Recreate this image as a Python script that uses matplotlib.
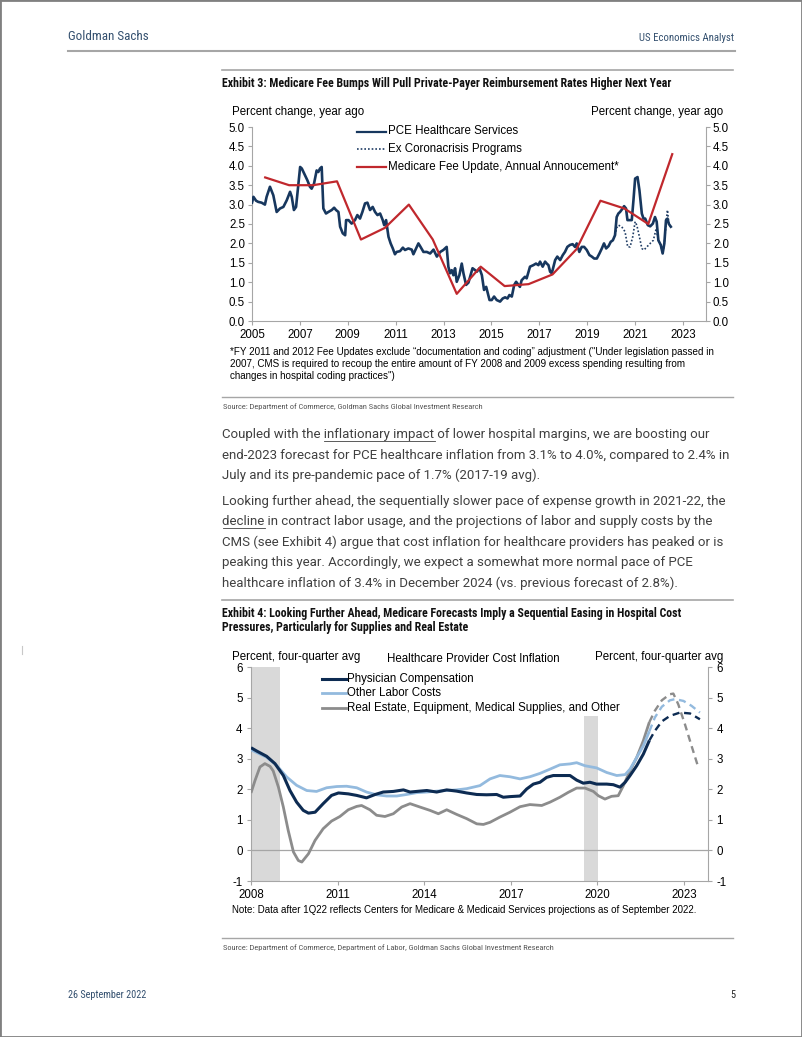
import numpy as np
import matplotlib
matplotlib.use('Agg')
import matplotlib.pyplot as plt
from matplotlib import font_manager
from matplotlib.font_manager import FontProperties
from matplotlib.lines import Line2D
from matplotlib.patches import Rectangle
from matplotlib.ticker import FormatStrFormatter

plt.rcParams['axes.unicode_minus'] = False

# ---------------- Exhibit 3 data ----------------
pce_years = [2005.0, 2005.06, 2005.17, 2005.26, 2005.40, 2005.54, 2005.61, 2005.75, 2005.89, 2006.03,
             2006.17, 2006.31, 2006.45, 2006.59, 2006.66, 2006.75, 2006.84, 2006.94, 2007.01, 2007.08,
             2007.21, 2007.31, 2007.42, 2007.49, 2007.59, 2007.70, 2007.77, 2007.84, 2007.91, 2007.98,
             2008.09, 2008.19, 2008.33, 2008.43, 2008.51, 2008.61, 2008.68, 2008.79, 2008.89, 2008.93,
             2009.03, 2009.16, 2009.30, 2009.40, 2009.51, 2009.61, 2009.72, 2009.82, 2009.93, 2010.04,
             2010.14, 2010.24, 2010.35, 2010.46, 2010.52, 2010.60, 2010.70, 2010.79, 2010.88, 2010.97,
             2011.04, 2011.18, 2011.30, 2011.39, 2011.53, 2011.67, 2011.74, 2011.88, 2011.95, 2012.02,
             2012.16, 2012.30, 2012.44, 2012.58, 2012.72, 2012.86, 2012.99, 2013.13, 2013.20, 2013.27,
             2013.34, 2013.41, 2013.48, 2013.55, 2013.66, 2013.76, 2013.83, 2013.94, 2014.04, 2014.11,
             2014.21, 2014.32, 2014.39, 2014.50, 2014.60, 2014.69, 2014.78, 2014.85, 2014.92, 2015.01,
             2015.11, 2015.22, 2015.36, 2015.47, 2015.57, 2015.67, 2015.75, 2015.85, 2015.95, 2016.03,
             2016.13, 2016.19, 2016.26, 2016.40, 2016.47, 2016.61, 2016.75, 2016.86, 2016.96, 2017.03,
             2017.14, 2017.24, 2017.31, 2017.38, 2017.45, 2017.52, 2017.59, 2017.66, 2017.75, 2017.87,
             2017.98, 2018.07, 2018.17, 2018.28, 2018.39, 2018.49, 2018.56, 2018.67, 2018.77, 2018.87,
             2018.98, 2019.09, 2019.19, 2019.29, 2019.40, 2019.51, 2019.61, 2019.70, 2019.79, 2019.89,
             2019.98, 2020.07, 2020.16, 2020.23, 2020.30, 2020.37, 2020.48, 2020.54, 2020.62, 2020.68,
             2020.86, 2020.93, 2021.00, 2021.10, 2021.18, 2021.28, 2021.35, 2021.42, 2021.53, 2021.63,
             2021.74, 2021.83, 2021.90, 2021.97, 2022.07, 2022.15, 2022.22, 2022.29, 2022.35, 2022.41,
             2022.49]
pce_vals = [3.05, 3.20, 3.10, 3.07, 3.05, 3.00, 3.20, 3.46, 3.24, 2.81,
            2.90, 2.94, 3.11, 3.33, 3.20, 2.86, 2.94, 3.54, 3.97, 3.93,
            3.76, 3.63, 3.46, 3.41, 3.54, 3.88, 3.84, 3.93, 3.97, 2.90,
            2.77, 2.81, 2.86, 2.92, 2.86, 2.81, 2.43, 2.26, 2.21, 2.60,
            2.60, 2.51, 2.60, 2.73, 2.64, 2.81, 3.03, 3.05, 2.86, 2.94,
            2.81, 2.73, 2.77, 2.60, 2.47, 2.60, 2.17, 2.00, 1.87, 1.72,
            1.78, 1.80, 1.89, 1.83, 1.87, 1.84, 1.72, 1.91, 2.00, 1.93,
            1.78, 1.78, 1.74, 1.84, 1.66, 1.78, 1.83, 1.91, 1.40, 1.23,
            1.31, 1.18, 1.36, 1.01, 1.18, 1.48, 1.23, 0.93, 0.99, 1.14,
            1.36, 1.31, 1.27, 1.36, 1.18, 0.80, 0.88, 0.71, 0.54, 0.54,
            0.63, 0.54, 0.50, 0.58, 0.61, 0.58, 0.67, 0.63, 0.93, 1.01,
            0.93, 0.88, 1.05, 1.14, 1.10, 1.40, 1.44, 1.48, 1.44, 1.53,
            1.40, 1.53, 1.48, 1.44, 1.27, 1.23, 1.40, 1.57, 1.66, 1.57,
            1.70, 1.78, 1.91, 1.96, 1.98, 1.91, 2.00, 1.78, 1.91, 1.91,
            1.83, 1.70, 1.66, 1.61, 1.61, 1.74, 1.87, 2.00, 1.87, 1.93,
            2.04, 2.08, 2.21, 2.68, 2.77, 2.81, 2.90, 2.96, 2.90, 2.60,
            2.60, 3.11, 3.67, 3.71, 3.37, 2.77, 2.64, 2.64, 2.47, 2.44,
            2.51, 2.68, 2.56, 2.08, 1.96, 1.74, 2.00, 2.60, 2.64, 2.50,
            2.43]

exc_years = [2020.16, 2020.23, 2020.30, 2020.44, 2020.58, 2020.69, 2020.79, 2020.90, 2021.00, 2021.07,
             2021.18, 2021.28, 2021.37, 2021.49, 2021.63, 2021.76, 2021.88, 2021.97, 2022.07, 2022.15,
             2022.22, 2022.29, 2022.35, 2022.41, 2022.49]
exc_vals = [2.21, 2.40, 2.47, 2.43, 2.30, 1.91, 1.91, 2.17, 2.56, 2.47,
            2.17, 1.87, 1.83, 1.91, 2.00, 2.08, 2.38, 2.08, 1.96, 1.74,
            2.00, 2.50, 2.86, 2.50, 2.43]

fee_years = np.arange(2005, 2023)
fee_vals = [3.7, 3.5, 3.5, 3.6, 2.1, 2.4, 3.0, 2.1, 0.7, 1.4, 0.9, 0.95, 1.2, 1.85, 3.1, 2.9, 2.5, 4.3]
fee_offset = 0.55  # announcement timing within the year

# ---------------- Exhibit 4 data ----------------
proj_from = 2021.8  # CMS projections begin
phys_years = [2008.0, 2008.2, 2008.54, 2008.83, 2009.12, 2009.35, 2009.58, 2009.81, 2009.99, 2010.22,
              2010.5, 2010.79, 2011.03, 2011.37, 2011.66, 2012.0, 2012.3, 2012.58, 2012.93, 2013.28,
              2013.51, 2013.85, 2014.09, 2014.43, 2014.78, 2015.12, 2015.47, 2015.82, 2016.16, 2016.51,
              2016.74, 2016.97, 2017.32, 2017.55, 2017.78, 2018.01, 2018.24, 2018.47, 2018.82, 2019.05,
              2019.28, 2019.51, 2019.74, 2019.97, 2020.32, 2020.55, 2020.78, 2020.96, 2021.13, 2021.36,
              2021.59, 2021.8, 2021.99, 2022.23, 2022.51, 2022.86, 2023.21, 2023.55]
phys_vals = [3.36, 3.25, 3.08, 2.84, 2.45, 1.96, 1.58, 1.31, 1.22, 1.25,
             1.53, 1.80, 1.88, 1.85, 1.80, 1.72, 1.83, 1.91, 1.93, 1.98,
             1.91, 1.94, 1.96, 1.91, 1.98, 1.94, 1.88, 1.83, 1.82, 1.83,
             1.74, 1.76, 1.78, 2.01, 2.17, 2.23, 2.39, 2.45, 2.45, 2.45,
             2.30, 2.20, 2.23, 2.17, 2.17, 2.15, 2.07, 2.23, 2.45, 2.77,
             3.15, 3.60, 3.91, 4.22, 4.40, 4.51, 4.48, 4.29]

labor_years = [2008.0, 2008.54, 2008.89, 2009.24, 2009.58, 2009.93, 2010.27, 2010.62, 2010.97, 2011.31,
               2011.66, 2012.0, 2012.35, 2012.7, 2013.05, 2013.39, 2013.74, 2014.09, 2014.43, 2014.78,
               2015.12, 2015.47, 2015.93, 2016.28, 2016.62, 2016.97, 2017.32, 2017.66, 2018.01, 2018.36,
               2018.70, 2019.05, 2019.28, 2019.57, 2019.97, 2020.32, 2020.67, 2020.96, 2021.13, 2021.36,
               2021.59, 2021.8, 2021.99, 2022.23, 2022.51, 2022.69, 2022.98, 2023.26, 2023.55]
labor_vals = [3.29, 3.05, 2.78, 2.40, 2.13, 1.96, 1.93, 2.05, 2.09, 2.10,
              2.05, 1.91, 1.82, 1.78, 1.78, 1.83, 1.89, 1.91, 1.94, 1.96,
              1.98, 2.02, 2.12, 2.34, 2.45, 2.41, 2.34, 2.41, 2.52, 2.66,
              2.80, 2.83, 2.87, 2.77, 2.70, 2.55, 2.45, 2.48, 2.66, 3.04,
              3.42, 3.90, 4.35, 4.70, 4.91, 4.95, 4.89, 4.73, 4.51]

other_years = [2008.0, 2008.14, 2008.31, 2008.48, 2008.66, 2008.77, 2008.95, 2009.12, 2009.29, 2009.47,
               2009.64, 2009.76, 2009.99, 2010.22, 2010.5, 2010.79, 2011.08, 2011.37, 2011.66, 2011.83,
               2012.12, 2012.35, 2012.64, 2012.93, 2013.22, 2013.51, 2013.85, 2014.2, 2014.49, 2014.78,
               2015.12, 2015.47, 2015.82, 2016.05, 2016.28, 2016.62, 2016.97, 2017.32, 2017.66, 2018.07,
               2018.36, 2018.70, 2018.99, 2019.28, 2019.57, 2019.86, 2020.03, 2020.26, 2020.49, 2020.72,
               2020.90, 2021.13, 2021.36, 2021.59, 2021.8, 2021.99, 2022.23, 2022.51, 2022.63, 2022.80,
               2023.03, 2023.26, 2023.50]
other_vals = [1.88, 2.29, 2.73, 2.84, 2.75, 2.60, 2.07, 1.42, 0.65, -0.05,
              -0.33, -0.38, -0.11, 0.33, 0.71, 0.96, 1.11, 1.33, 1.44, 1.47,
              1.33, 1.15, 1.11, 1.20, 1.42, 1.53, 1.42, 1.31, 1.20, 1.33,
              1.18, 1.04, 0.87, 0.85, 0.92, 1.09, 1.25, 1.43, 1.50, 1.47,
              1.58, 1.74, 1.90, 2.04, 2.04, 1.93, 1.79, 1.68, 1.77, 1.79,
              2.12, 2.61, 3.04, 3.59, 4.20, 4.57, 4.91, 5.11, 5.13, 4.78,
              4.13, 3.42, 2.70]

rec_starts = [2008.0, 2019.54]
rec_ends = [2009.02, 2020.03]
rec_tops = [6.0, 4.4]

# ---------------- fonts ----------------
W, H = 802, 1037
fig = plt.figure(figsize=(W / 100, H / 100), dpi=100)
fig.patch.set_facecolor('white')
renderer = fig.canvas.get_renderer()

ttf = font_manager.fontManager.ttflist
names = {f.name for f in ttf}


def weight_num(f):
    w = f.weight
    if isinstance(w, (int, float)):
        return w
    return font_manager.weight_dict.get(w, 400)


def find_condensed(bold):
    prefs = ['Roboto Condensed', 'Liberation Sans Narrow', 'Noto Sans', 'Open Sans', 'DejaVu Sans', 'Lato']
    best, bestscore = None, 1e18
    for f in ttf:
        cond = ('ondensed' in f.name) or ('Narrow' in f.name) or \
               (f.stretch in ('condensed', 'semi-condensed', 'extra-condensed'))
        if not cond or 'Mono' in f.name or 'Serif' in f.name or f.style != 'normal':
            continue
        pref = next((i for i, p in enumerate(prefs) if f.name.startswith(p)), len(prefs))
        target = 700 if bold else 400
        score = pref * 10000 + abs(weight_num(f) - target) + (0 if f.stretch == 'condensed' else 50)
        if score < bestscore:
            best, bestscore = f, score
    return best


fc_reg = find_condensed(False)
fc_bold = find_condensed(True)
if fc_reg is not None:
    NARROW = dict(fontproperties=FontProperties(fname=fc_reg.fname))
else:
    NARROW = dict(family='Roboto' if 'Roboto' in names else 'DejaVu Sans')
if fc_bold is not None and weight_num(fc_bold) >= 600:
    NARROWB = dict(fontproperties=FontProperties(fname=fc_bold.fname))
else:
    NARROWB = dict(family='Roboto' if 'Roboto' in names else 'DejaVu Sans', weight='bold')
ARIAL = dict(family='Liberation Sans')
BODY = dict(family='Roboto') if 'Roboto' in names else dict(family='DejaVu Sans')


def X(px):
    return px / W


def Y(py):
    return 1 - py / H


def width_px(s, size, **kw):
    t = fig.text(0, 0, s, fontsize=size, **kw)
    w = t.get_window_extent(renderer).width
    t.remove()
    return w


def fit(s, target, **kw):
    return 10.0 * target / width_px(s, 10.0, **kw)


def put(x, y, s, size, ha='left', va='center', **kw):
    return fig.text(X(x), Y(y), s, fontsize=size, ha=ha, va=va, **kw)


def hline(x0, x1, y, color='#a6a6a6', lw=1.0):
    fig.add_artist(Line2D([X(x0), X(x1)], [Y(y), Y(y)], color=color, lw=lw))


def put_parts(x, y, parts, size, color, **kw):
    full = ''.join(p for p, _ in parts)
    put(x, y, full, size, va='baseline', color=color, **kw)
    cur = ''
    for p, u in parts:
        if u:
            x1 = x + width_px(cur + p, size, **kw)
            x0 = x1 - width_px(p, size, **kw)
            fig.add_artist(Line2D([X(x0), X(x1)], [Y(y + 2.5), Y(y + 2.5)], color=color, lw=0.6))
        cur += p


# page border
fig.add_artist(Rectangle((0, 0), 1, 1, transform=fig.transFigure, fill=False,
                         edgecolor='#808080', lw=2.0))

# header / footer
HDR = '#34506f'
s = fit('Goldman Sachs', 81, **NARROW)
put(68, 36, 'Goldman Sachs', s, color=HDR, **NARROW)
s = fit('US Economics Analyst', 95, **NARROW)
put(734, 38, 'US Economics Analyst', s, ha='right', color=HDR, **NARROW)
hline(68, 735, 51, color='#a6a6a6', lw=1.5)
s = fit('26 September 2022', 78, **NARROW)
put(68, 995, '26 September 2022', s, color=HDR, **NARROW)
put(735, 995, '5', s, ha='right', color='#222222', **NARROW)
fig.add_artist(Line2D([X(22), X(22)], [Y(646), Y(654)], color='#c8c8c8', lw=0.8))

# ---------------- Exhibit 3 ----------------
hline(222, 733, 70, color='#a6a6a6', lw=1.2)
t3 = 'Exhibit 3: Medicare Fee Bumps Will Pull Private-Payer Reimbursement Rates Higher Next Year'
s = fit(t3, 450, **NARROWB)
put(222.5, 83, t3, s, color='#111111', **NARROWB)

cfs = fit('Percent change, year ago', 133, **ARIAL)
SP = '#a6a6a6'

ax1 = fig.add_axes([X(252), Y(321), (706 - 252) / W, (321 - 127) / H])
ax1.plot(exc_years, exc_vals, color='#1f3c64', lw=1.2, ls=(0, (1, 1.2)), zorder=2)
ax1.plot(pce_years, pce_vals, color='#17375e', lw=1.9, zorder=3)
ax1.plot(fee_years + fee_offset, fee_vals, color='#c0282d', lw=1.6, zorder=4)
ax1.set_xlim(2005, 2023.96)
ax1.set_ylim(0, 5)
ax1.set_xticks(range(2005, 2024, 2))
ax1.set_yticks(np.arange(0, 5.01, 0.5))
ax1.yaxis.set_major_formatter(FormatStrFormatter('%.1f'))
for sp in ['left', 'right', 'bottom']:
    ax1.spines[sp].set_color(SP)
    ax1.spines[sp].set_linewidth(0.8)
ax1.spines['top'].set_visible(False)
ax1.tick_params(axis='y', left=True, right=True, labelleft=True, labelright=True,
                direction='out', length=3, width=0.8, color=SP, labelsize=cfs, pad=2)
ax1.tick_params(axis='x', direction='out', length=3, width=0.8, color=SP, labelsize=cfs, pad=3)
for lab in ax1.get_xticklabels() + ax1.yaxis.get_majorticklabels():
    lab.set_family('Liberation Sans')
for t in ax1.yaxis.get_major_ticks():
    t.label2.set_family('Liberation Sans')
ax1.patch.set_alpha(0)

put(232, 112, 'Percent change, year ago', cfs, color='#000000', **ARIAL)
put(723, 112, 'Percent change, year ago', cfs, ha='right', color='#000000', **ARIAL)

leg1 = [('PCE Healthcare Services', dict(color='#17375e', lw=1.6)),
        ('Ex Coronacrisis Programs', dict(color='#1f3c64', lw=1.2, ls=(0, (1, 1.2)))),
        ('Medicare Fee Update, Annual Annoucement*', dict(color='#c0282d', lw=1.6))]
for i, (lab, st) in enumerate(leg1):
    yy = 131.5 + i * 17.6
    fig.add_artist(Line2D([X(357), X(386)], [Y(yy), Y(yy)], **st))
    put(388, yy, lab, cfs, color='#000000', **ARIAL)

fn = ['*FY 2011 and 2012 Fee Updates exclude \u201cdocumentation and coding\u201d adjustment ("Under legislation passed in',
      '2007, CMS is required to recoup the entire amount of FY 2008 and 2009 excess spending resulting from',
      'changes in hospital coding practices")']
ffs = fit(fn[0], 488, **ARIAL)
for i, line in enumerate(fn):
    put(230.5, 352 + i * 12, line, ffs, color='#000000', **ARIAL)

hline(222, 733, 397, color='#a6a6a6', lw=1.0)
src1 = 'Source: Department of Commerce, Goldman Sachs Global Investment Research'
sfs = fit(src1, 260, **NARROW)
put(223, 407, src1, sfs, color='#555555', **NARROW)

# ---------------- body text ----------------
BODYC = '#404040'
bl2 = 'end-2023 forecast for PCE healthcare inflation from 3.1% to 4.0%, compared to 2.4% in'
bfs = fit(bl2, 509, **BODY)
para1 = [[('Coupled with the ', False), ('inflationary impact', True), (' of lower hospital margins, we are boosting our', False)],
         [(bl2, False)],
         [('July and its pre-pandemic pace of 1.7% (2017-19 avg).', False)]]
para2 = [[('Looking further ahead, the sequentially slower pace of expense growth in 2021-22, the', False)],
         [('decline', True), (' in contract labor usage, and the projections of labor and supply costs by the', False)],
         [('CMS (see Exhibit 4) argue that cost inflation for healthcare providers has peaked or is', False)],
         [('peaking this year. Accordingly, we expect a somewhat more normal pace of PCE', False)],
         [('healthcare inflation of 3.4% in December 2024 (vs. previous forecast of 2.8%).', False)]]
for i, parts in enumerate(para1):
    put_parts(222.5, 438 + i * 20.6, parts, bfs, BODYC, **BODY)
for i, parts in enumerate(para2):
    put_parts(222.5, 504.5 + i * 20.6, parts, bfs, BODYC, **BODY)

# ---------------- Exhibit 4 ----------------
hline(222, 733, 600, color='#a6a6a6', lw=1.2)
t4a = 'Exhibit 4: Looking Further Ahead, Medicare Forecasts Imply a Sequential Easing in Hospital Cost'
t4b = 'Pressures, Particularly for Supplies and Real Estate'
s4 = fit(t4a, 459, **NARROWB)
put(222.5, 614, t4a, s4, color='#111111', **NARROWB)
put(222.5, 627, t4b, s4, color='#111111', **NARROWB)

ax2 = fig.add_axes([X(251), Y(881), (708 - 251) / W, (881 - 667) / H])
for a, b, top in zip(rec_starts, rec_ends, rec_tops):
    ax2.fill_between([a, b], [-1, -1], [top, top], color='#d9d9d9', lw=0, zorder=0)
ax2.axhline(0, color='#a6a6a6', lw=0.9, zorder=1)

C_PHYS, C_LAB, C_OTH = '#0d2b52', '#93bade', '#8c8c8c'
for yrs, vals, col, lw in [(other_years, other_vals, C_OTH, 2.0),
                           (labor_years, labor_vals, C_LAB, 2.0),
                           (phys_years, phys_vals, C_PHYS, 2.2)]:
    yrs = np.asarray(yrs)
    vals = np.asarray(vals)
    m1 = yrs <= proj_from + 1e-9
    m2 = yrs >= proj_from - 1e-9
    ax2.plot(yrs[m1], vals[m1], color=col, lw=lw, zorder=3, solid_capstyle='butt')
    ax2.plot(yrs[m2], vals[m2], color=col, lw=1.7, ls=(0, (3, 2)), zorder=3)

ax2.set_xlim(2008, 2023.83)
ax2.set_ylim(-1, 6)
ax2.set_xticks(range(2008, 2024, 3))
ax2.set_yticks(range(-1, 7))
for sp in ['left', 'right', 'bottom']:
    ax2.spines[sp].set_color(SP)
    ax2.spines[sp].set_linewidth(0.8)
ax2.spines['top'].set_visible(False)
ax2.tick_params(axis='y', left=True, right=True, labelleft=True, labelright=True,
                direction='out', length=3, width=0.8, color=SP, labelsize=cfs, pad=3)
ax2.tick_params(axis='x', direction='out', length=3, width=0.8, color=SP, labelsize=cfs, pad=3)
for lab in ax2.get_xticklabels() + ax2.yaxis.get_majorticklabels():
    lab.set_family('Liberation Sans')
for t in ax2.yaxis.get_major_ticks():
    t.label2.set_family('Liberation Sans')
ax2.patch.set_alpha(0)

put(232, 657, 'Percent, four-quarter avg', cfs, color='#000000', **ARIAL)
put(723, 657, 'Percent, four-quarter avg', cfs, ha='right', color='#000000', **ARIAL)
put(473, 659, 'Healthcare Provider Cost Inflation', cfs, ha='center', color='#000000', **ARIAL)

leg2 = [('Physician Compensation', C_PHYS, 2.2),
        ('Other Labor Costs', C_LAB, 2.0),
        ('Real Estate, Equipment, Medical Supplies, and Other', C_OTH, 2.0)]
for i, (lab, col, lw) in enumerate(leg2):
    yy = 679 + i * 14.3
    fig.add_artist(Line2D([X(322), X(346)], [Y(yy), Y(yy)], color=col, lw=lw))
    put(347, yy, lab, cfs, color='#000000', **ARIAL)

note = 'Note: Data after 1Q22 reflects Centers for Medicare & Medicaid Services projections as of September 2022.'
nfs = fit(note, 471, **ARIAL)
put(232, 910, note, nfs, color='#000000', **ARIAL)

hline(222, 733, 938, color='#a6a6a6', lw=1.0)
src2 = 'Source: Department of Commerce, Department of Labor, Goldman Sachs Global Investment Research'
put(223, 948, src2, sfs, color='#555555', **NARROW)

fig.savefig('out.png', dpi=100, facecolor='white')
